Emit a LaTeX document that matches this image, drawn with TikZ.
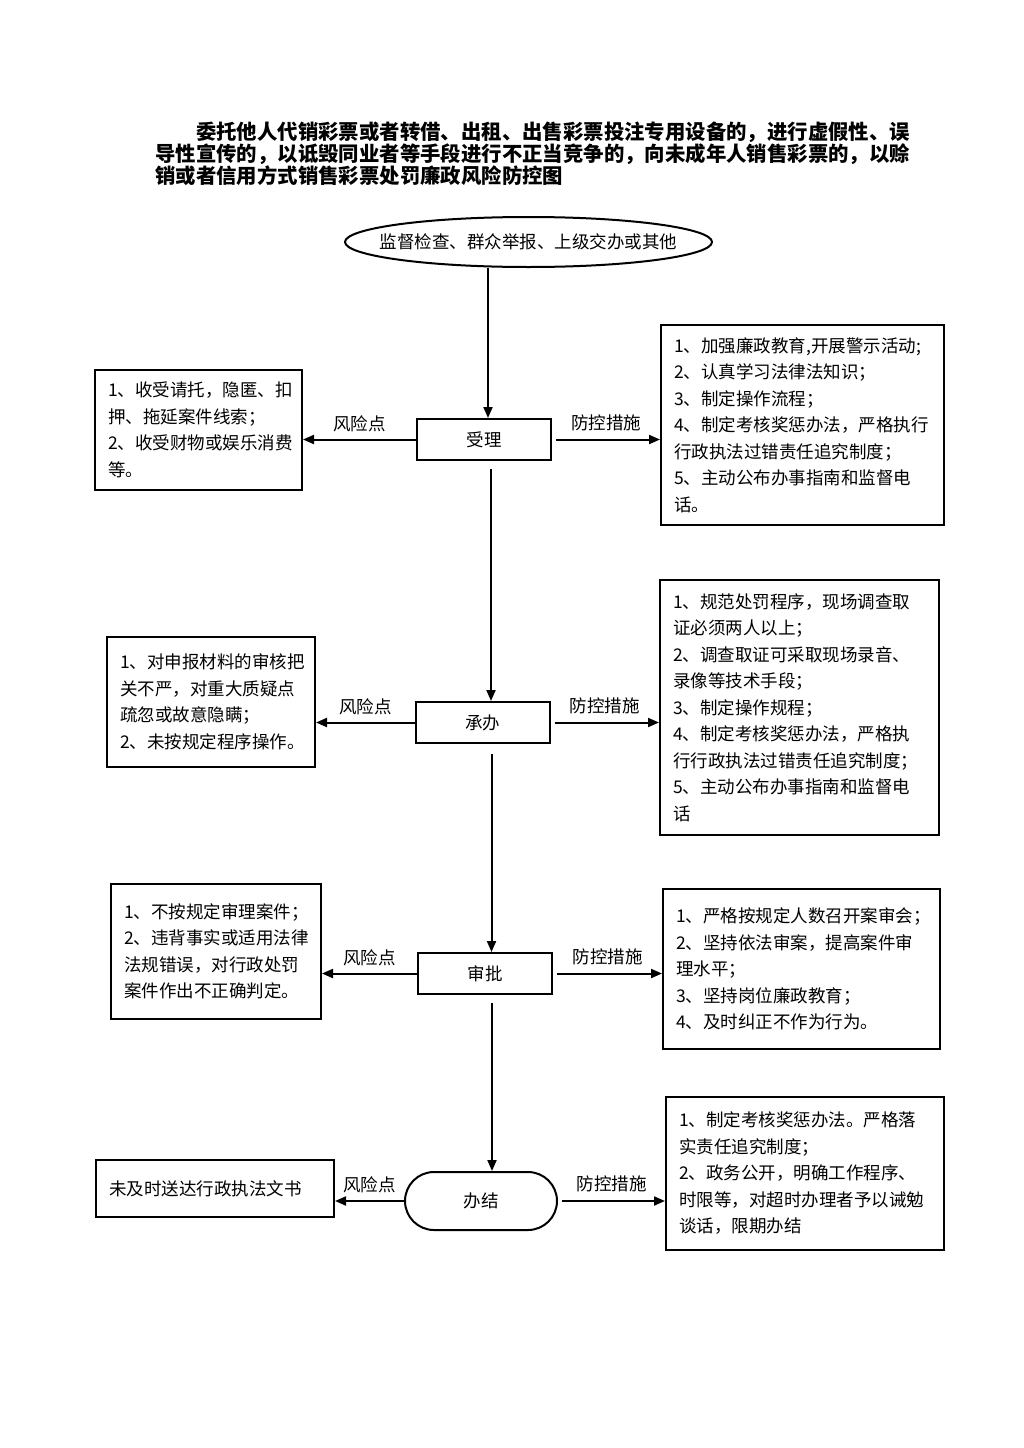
\documentclass[tikz,border=0pt]{standalone}
\usepackage{fontspec}
\setmainfont{Noto Sans CJK SC}
\usepackage{tikz}
\usetikzlibrary{arrows.meta,shapes.geometric,shapes.misc}
\newcommand{\bodyfont}{\fontsize{17.5}{26.5}\selectfont}
\newcommand{\headfont}{\fontsize{20.4}{22}\selectfont\bfseries}

\begin{document}
\begin{tikzpicture}[x=1pt,y=-1pt,
    box/.style={draw,line width=2pt,rectangle,align=left,inner xsep=13pt,inner ysep=4pt,font=\bodyfont},
    stepbox/.style={draw,line width=2pt,rectangle,minimum width=134pt,minimum height=41pt,inner sep=0pt,font=\bodyfont},
    flow/.style={line width=2pt,-{Triangle[length=11pt,width=9pt]}},
    lbl/.style={font=\bodyfont,inner sep=0pt}]
  \useasboundingbox (0,0) rectangle (1024,1448);
  % title
  \node[anchor=north west,align=left,inner sep=0pt,font=\headfont] (title) at (155,122)
    {\hspace*{2em}委托他人代销彩票或者转借、出租、出售彩票投注专用设备的，进行虚假性、误\\
     导性宣传的，以诋毁同业者等手段进行不正当竞争的，向未成年人销售彩票的，以赊\\
     销或者信用方式销售彩票处罚廉政风险防控图};
  % start
  \node[draw,ellipse,line width=2pt,minimum width=367pt,minimum height=50pt,inner sep=0pt,font=\bodyfont]
    (start) at (528.5,242) {\makebox[0pt]{监督检查、群众举报、上级交办或其他}};
  % step 1
  \node[stepbox] (shouli) at (484,439.5) {受理};
  \node[box,text width=181pt,minimum height=120pt] (risk1) at (198.5,430)
    {1、收受请托，隐匿、扣\\押、拖延案件线索；\\2、收受财物或娱乐消费\\等。};
  \node[box,text width=257pt,minimum height=200pt] (ctrl1) at (802.5,425)
    {1、加强廉政教育,开展警示活动;\\2、认真学习法律法知识；\\3、制定操作流程；\\4、制定考核奖惩办法，严格执行\\行政执法过错责任追究制度；\\5、主动公布办事指南和监督电\\话。};
  % step 2
  \node[stepbox] (chengban) at (482.5,722.5) {承办};
  \node[box,text width=182pt,minimum height=130pt] (risk2) at (211,702)
    {1、对申报材料的审核把\\关不严，对重大质疑点\\疏忽或故意隐瞒；\\2、未按规定程序操作。};
  \node[box,text width=253pt,minimum height=255pt] (ctrl2) at (799.5,707.5)
    {1、规范处罚程序，现场调查取\\证必须两人以上；\\2、调查取证可采取现场录音、\\录像等技术手段；\\3、制定操作规程；\\4、制定考核奖惩办法，严格执\\行行政执法过错责任追究制度；\\5、主动公布办事指南和监督电\\话};
  % step 3
  \node[stepbox] (shenpi) at (485,973.5) {审批};
  \node[box,text width=184pt,minimum height=135pt] (risk3) at (216,951.5)
    {1、不按规定审理案件；\\2、违背事实或适用法律\\法规错误，对行政处罚\\案件作出不正确判定。};
  \node[box,text width=251pt,minimum height=160pt] (ctrl3) at (801.5,969)
    {1、严格按规定人数召开案审会；\\2、坚持依法审案，提高案件审\\理水平；\\3、坚持岗位廉政教育；\\4、及时纠正不作为行为。};
  % step 4
  \node[draw,rounded rectangle,line width=2pt,minimum width=152pt,minimum height=58pt,inner sep=0pt,font=\bodyfont]
    (banjie) at (481,1201) {办结};
  \node[box,text width=212pt,minimum height=57pt] (risk4) at (215,1188.5)
    {未及时送达行政执法文书};
  \node[box,text width=252pt,minimum height=153pt] (ctrl4) at (805,1173.5)
    {1、制定考核奖惩办法。严格落\\实责任追究制度；\\2、政务公开，明确工作程序、\\时限等，对超时办理者予以诫勉\\谈话，限期办结};
  % main line
  \draw[flow] ([xshift=4pt]shouli.north |- start.south) -- ([xshift=4pt]shouli.north);
  \draw[flow,shorten <=8pt] ([xshift=7pt]shouli.south) -- ([xshift=7pt]shouli.south |- chengban.north);
  \draw[flow,shorten <=10pt] ([xshift=9pt]chengban.south) -- ([xshift=9pt]chengban.south |- shenpi.north);
  \draw[flow,shorten <=8pt] ([xshift=7pt]shenpi.south) -- ([xshift=7pt]shenpi.south |- banjie.north);
  % risk and control arrows
  \foreach \s/\r/\c in {shouli/risk1/ctrl1,chengban/risk2/ctrl2,shenpi/risk3/ctrl3,banjie/risk4/ctrl4}{
    \draw[flow] (\s.west) -- (\s.west -| \r.east) node[lbl,midway,above=7pt] {风险点};
    \draw[flow,shorten <=4pt] (\s.east) -- (\s.east -| \c.west) node[lbl,midway,above=8pt] {防控措施};
  }
\end{tikzpicture}
\end{document}
